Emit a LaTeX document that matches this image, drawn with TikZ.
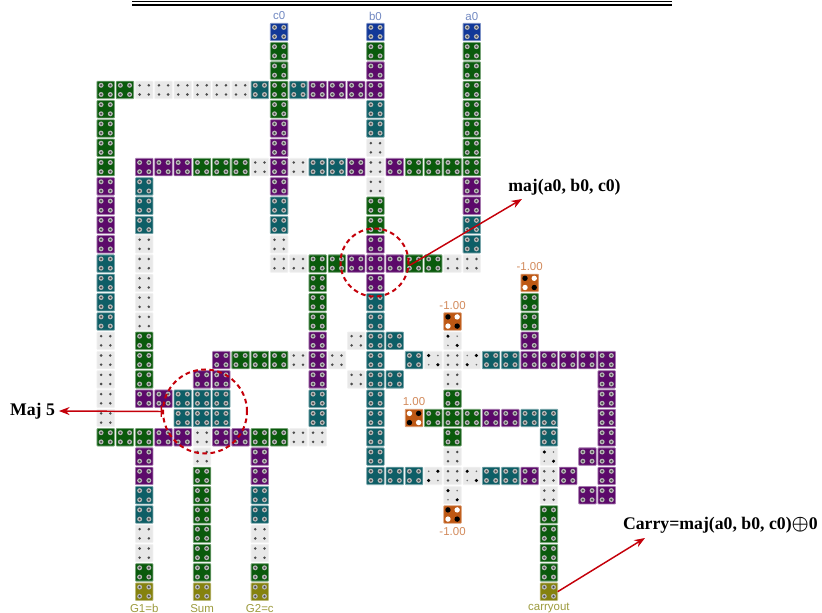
\documentclass[tikz,border=0pt]{standalone}
\usepackage{fontspec}
\setmainfont{Liberation Serif}
\newfontfamily\labelfont{Liberation Sans}
\usetikzlibrary{arrows.meta}
\definecolor{qgreen}{RGB}{10,90,12}
\definecolor{qpurple}{RGB}{92,10,106}
\definecolor{qteal}{RGB}{14,94,102}
\definecolor{qblue}{RGB}{18,56,152}
\definecolor{qolive}{RGB}{133,130,14}
\definecolor{qorange}{RGB}{190,88,20}
\definecolor{qgrey}{RGB}{232,232,232}
\definecolor{qred}{RGB}{196,0,10}
\newcommand{\celldot}[4]{\fill[#3] ([shift={(#1,#2)}]path picture bounding box.center) circle[radius=#4];}
\newcommand{\ringdots}{\foreach \dx/\dy in {-4.6/-4.6,4.6/-4.6,-4.6/4.6,4.6/4.6} {\celldot{\dx}{\dy}{black!28}{2.5}\celldot{\dx}{\dy}{black!70}{1.2}}}
\newcommand{\cellrow}[2]{\foreach \c/\k in {#2} \node[\k] (q\c-#1) at ({105.7+19.27*\c},{32+19.3*#1}) {};}
\tikzset{
  qcell/.style={minimum size=13.1pt, inner sep=0pt, outer sep=0pt, line width=0.6pt, rounded corners=0.5pt},
  colcell/.style={qcell, fill=#1, draw=#1!55!white, path picture={\ringdots}},
  gc/.style={colcell=qgreen}, pc/.style={colcell=qpurple}, tc/.style={colcell=qteal},
  bc/.style={colcell=qblue}, yc/.style={colcell=qolive},
  wc/.style={qcell, fill=qgrey, draw=qgrey!60!white, path picture={
    \foreach \dx/\dy in {-4.6/-4.6,4.6/-4.6,-4.6/4.6,4.6/4.6} {\celldot{\dx}{\dy}{black!70}{1.4}}}},
  wa/.style={qcell, fill=qgrey, draw=qgrey!60!white, path picture={
    \foreach \dx/\dy in {-4.6/-4.6,4.6/4.6} {\celldot{\dx}{\dy}{black}{1.7}}
    \foreach \dx/\dy in {4.6/-4.6,-4.6/4.6} {\celldot{\dx}{\dy}{black!55}{0.9}}}},
  wb/.style={qcell, fill=qgrey, draw=qgrey!60!white, path picture={
    \foreach \dx/\dy in {4.6/-4.6,-4.6/4.6} {\celldot{\dx}{\dy}{black}{1.7}}
    \foreach \dx/\dy in {-4.6/-4.6,4.6/4.6} {\celldot{\dx}{\dy}{black!55}{0.9}}}},
  negc/.style={qcell, fill=qorange, draw=qorange!60!white, path picture={
    \foreach \dx/\dy in {-4.6/-4.6,4.6/4.6} {\celldot{\dx}{\dy}{black}{2.7}}
    \foreach \dx/\dy in {4.6/-4.6,-4.6/4.6} {\celldot{\dx}{\dy}{white}{2.7}}}},
  posc/.style={qcell, fill=qorange, draw=qorange!60!white, path picture={
    \foreach \dx/\dy in {4.6/-4.6,-4.6/4.6} {\celldot{\dx}{\dy}{black}{2.7}}
    \foreach \dx/\dy in {-4.6/-4.6,4.6/4.6} {\celldot{\dx}{\dy}{white}{2.7}}}},
  iolabel/.style={font=\labelfont\fontsize{8.6}{10}\selectfont, inner sep=0pt},
  note/.style={font=\bfseries\fontsize{13.3}{15}\selectfont, inner sep=0pt, outer sep=3pt},
  ring/.style={circle, draw=qred, line width=1.5pt, dash pattern=on 3.5pt off 2.6pt, inner sep=0pt, minimum size=#1},
  pointer/.style={draw=qred, line width=1.1pt, -{Stealth[length=8pt,width=6pt]}}
}
\begin{document}
\begin{tikzpicture}[x=0.75pt, y=-0.75pt]
  \useasboundingbox (0,0) rectangle (822,613);
  % double rule along the top
  \draw[line width=0.9pt] (132,1.8) -- (672,1.8);
  \draw[line width=1.5pt] (132,4.7) -- (672,4.7);
  % cells, row by row
  \cellrow{0}{9/bc,14/bc,19/bc}
  \cellrow{1}{9/gc,14/gc,19/gc}
  \cellrow{2}{9/gc,14/pc,19/gc}
  \cellrow{3}{0/gc,1/gc,2/wc,3/wc,4/wc,5/wc,6/wc,7/wc,8/tc,9/gc,10/tc,11/pc,12/pc,13/pc,14/pc,19/gc}
  \cellrow{4}{0/gc,9/gc,14/tc,19/gc}
  \cellrow{5}{0/gc,9/pc,14/tc,19/gc}
  \cellrow{6}{0/gc,9/pc,14/wc,19/gc}
  \cellrow{7}{0/gc,2/pc,3/pc,4/pc,5/gc,6/gc,7/gc,8/wc,9/pc,10/wc,11/tc,12/tc,13/pc,14/wc,15/pc,16/gc,17/gc,18/gc,19/gc}
  \cellrow{8}{0/pc,2/tc,9/pc,14/wc,19/pc}
  \cellrow{9}{0/pc,2/tc,9/tc,14/gc,19/pc}
  \cellrow{10}{0/pc,2/tc,9/tc,14/gc,19/tc}
  \cellrow{11}{0/pc,2/wc,9/wc,14/pc,19/tc}
  \cellrow{12}{0/tc,2/wc,9/wc,10/wc,11/gc,12/gc,13/pc,14/pc,15/pc,16/gc,17/gc,18/wc,19/wc}
  \cellrow{13}{0/tc,2/wc,11/gc,14/pc,22/negc}
  \cellrow{14}{0/tc,2/wc,11/gc,14/tc,22/gc}
  \cellrow{15}{0/tc,2/wc,11/gc,14/tc,18/negc,22/gc}
  \cellrow{16}{0/wc,2/gc,11/pc,13/wc,14/tc,15/tc,18/wa,22/pc}
  \cellrow{17}{0/wc,2/gc,6/pc,7/gc,8/gc,9/gc,10/wc,11/pc,12/wc,14/tc,16/tc,17/wa,18/wc,19/wb,20/tc,21/tc,22/pc,23/pc,24/pc,25/pc,26/pc}
  \cellrow{18}{0/wc,2/gc,5/pc,6/pc,11/pc,13/wc,14/tc,15/tc,18/wc,26/pc}
  \cellrow{19}{0/wc,2/pc,3/pc,4/tc,5/tc,6/tc,11/tc,14/tc,18/gc,26/pc}
  \cellrow{20}{0/wc,4/tc,5/tc,6/tc,11/tc,14/tc,16/posc,17/gc,18/gc,19/gc,20/pc,21/pc,22/tc,23/tc,26/pc}
  \cellrow{21}{0/gc,1/gc,2/gc,3/pc,4/pc,5/wc,6/pc,7/pc,8/gc,9/gc,10/wc,11/wc,14/tc,18/gc,23/tc,26/pc}
  \cellrow{22}{2/pc,5/wc,8/pc,14/tc,18/wc,23/wa,25/pc,26/pc}
  \cellrow{23}{2/pc,5/gc,8/pc,14/tc,15/tc,16/tc,17/wb,18/wc,19/wa,20/tc,21/tc,22/pc,23/wc,24/pc,26/pc}
  \cellrow{24}{2/tc,5/gc,8/tc,18/wa,23/wc,25/pc,26/pc}
  \cellrow{25}{2/tc,5/gc,8/tc,18/negc,23/gc}
  \cellrow{26}{2/wc,5/gc,8/wc,23/gc}
  \cellrow{27}{2/wc,5/gc,8/wc,23/gc}
  \cellrow{28}{2/gc,5/gc,8/gc,23/gc}
  \cellrow{29}{2/yc,5/yc,8/yc,23/yc}
  % pin names and fixed values
  \node[iolabel, text=qblue!60!white, above=2.5pt] (c0name) at (q9-0.north) {c0};
  \node[iolabel, text=qblue!60!white, above=2pt] (b0name) at (q14-0.north) {b0};
  \node[iolabel, text=qblue!60!white, above=2pt] (a0name) at (q19-0.north) {a0};
  \node[iolabel, text=qorange!70!white, above=2.5pt] (fixa) at (q22-13.north) {-1.00};
  \node[iolabel, text=qorange!70!white, above=2.5pt] (fixb) at (q18-15.north) {-1.00};
  \node[iolabel, text=qorange!70!white, above=2.5pt] (fixc) at (q16-20.north) {1.00};
  \node[iolabel, text=qorange!70!white, below=3pt] (fixd) at (q18-25.south) {-1.00};
  \node[iolabel, text=qolive!80!white, below=2.5pt] (g1name) at (q2-29.south) {G1=b};
  \node[iolabel, text=qolive!80!white, below=2.5pt] (sumname) at (q5-29.south) {Sum};
  \node[iolabel, text=qolive!80!white, below=2.5pt] (g2name) at (q8-29.south) {G2=c};
  \node[iolabel, text=qolive!80!white, below=1.5pt] (carryname) at (q23-29.south) {carryout};
  % marked gates and the notes on them
  \node[ring=51pt] (majring) at (374.5,262.5) {};
  \node[ring=63pt] (fivering) at (205,411.5) {};
  \node[note] (majnote) at (564.5,187) {maj(a0, b0, c0)};
  \node[note] (fivenote) at (32.5,411) {Maj 5};
  \node[note, anchor=west, outer sep=0pt] (carrynote) at (623,525) {Carry=maj(a0, b0, c0){\fontsize{15.5}{15.5}\selectfont\boldmath$\oplus$}0};
  \coordinate (majtip) at (522,199);
  \coordinate (carrytip) at (645,538);
  \draw[pointer] (majring.-5) -- (majtip);
  \draw[pointer, {Bar[width=8pt,length=1pt]}-{Stealth[length=8pt,width=6pt]}] (fivering.west) -- (fivenote.east);
  \draw[pointer] (q23-29.east) -- (carrytip);
\end{tikzpicture}
\end{document}
